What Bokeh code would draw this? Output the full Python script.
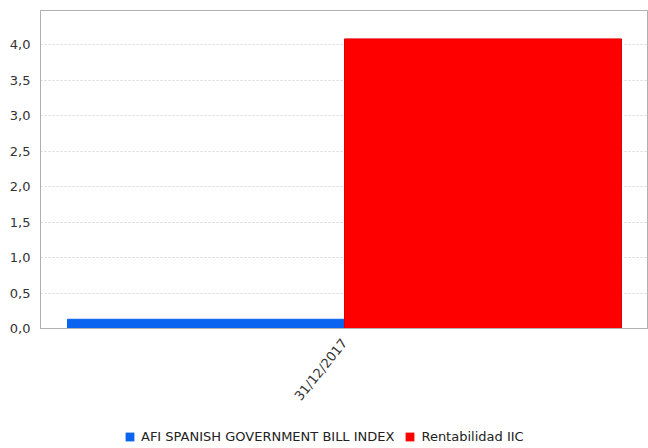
from bokeh.plotting import figure
from bokeh.layouts import column
from bokeh.models import ColumnDataSource, FactorRange, Legend, LegendItem, CustomJSTickFormatter, Range1d
from bokeh.transform import dodge
from bokeh.embed import file_html
from bokeh.resources import INLINE

dates = ["31/12/2017"]
afi_index = [0.13]
rentabilidad_iic = [4.08]
series_names = ["AFI SPANISH GOVERNMENT BILL INDEX", "Rentabilidad IIC"]
colors = ["#0a64f0", "#ff0000"]
y_ticks = [0, 0.5, 1, 1.5, 2, 2.5, 3, 3.5, 4]

FONT = "DejaVu Sans"
src = ColumnDataSource(dict(date=dates, afi=afi_index, iic=rentabilidad_iic))

p = figure(x_range=FactorRange(factors=dates, range_padding=0), y_range=Range1d(0, 4.48),
           width=648, height=422, output_backend="svg", toolbar_location=None,
           min_border_left=40, min_border_right=0, min_border_top=10, min_border_bottom=94)

bw = 0.4556
r1 = p.vbar(x=dodge("date", -bw / 2, range=p.x_range), top="afi", width=bw, source=src,
            fill_color=colors[0], line_color=colors[0])
r2 = p.vbar(x=dodge("date", bw / 2, range=p.x_range), top="iic", width=bw, source=src,
            fill_color=colors[1], line_color="#e00000")

p.xgrid.grid_line_color = None
p.ygrid.grid_line_color = "#d8d8d8"
p.ygrid.grid_line_dash = "2 2"
p.outline_line_color = "#b0b0b0"

p.yaxis.ticker = y_ticks
p.yaxis.formatter = CustomJSTickFormatter(code="return tick.toFixed(1).replace('.', ',');")
for ax in (p.xaxis[0], p.yaxis[0]):
    ax.axis_line_color = "#b0b0b0"
    ax.major_tick_line_color = None
    ax.minor_tick_line_color = None
    ax.major_label_text_font = FONT
    ax.major_label_text_font_size = "13px"
    ax.major_label_text_color = "#333333"
p.yaxis.major_label_standoff = 4
p.xaxis.major_label_orientation = 0.89
p.xaxis.major_label_standoff = 6

# legend strip below the chart (helper swatches of zero size carry the colours)
p2 = figure(width=648, height=26, output_backend="svg", toolbar_location=None,
            x_range=Range1d(0, 1), y_range=Range1d(0, 1), x_axis_type=None, y_axis_type=None,
            min_border=0, outline_line_color=None)
p2.grid.visible = False
lr = [p2.vbar(x=[0], top=[0], bottom=[0], width=0, fill_color=c, line_color=c, line_alpha=0)
      for c in colors]
legend = Legend(items=[LegendItem(label=n, renderers=[r]) for n, r in zip(series_names, lr)],
                orientation="horizontal", location=(84, 4),
                label_text_font=FONT, label_text_font_size="13px",
                label_text_color="#222222", glyph_width=11, glyph_height=11,
                spacing=10, label_standoff=6, padding=0, margin=0,
                border_line_color=None, background_fill_alpha=0)
p2.add_layout(legend, "center")

layout = column(p, p2, spacing=0)
open("out.html", "w").write(file_html(layout, INLINE))
